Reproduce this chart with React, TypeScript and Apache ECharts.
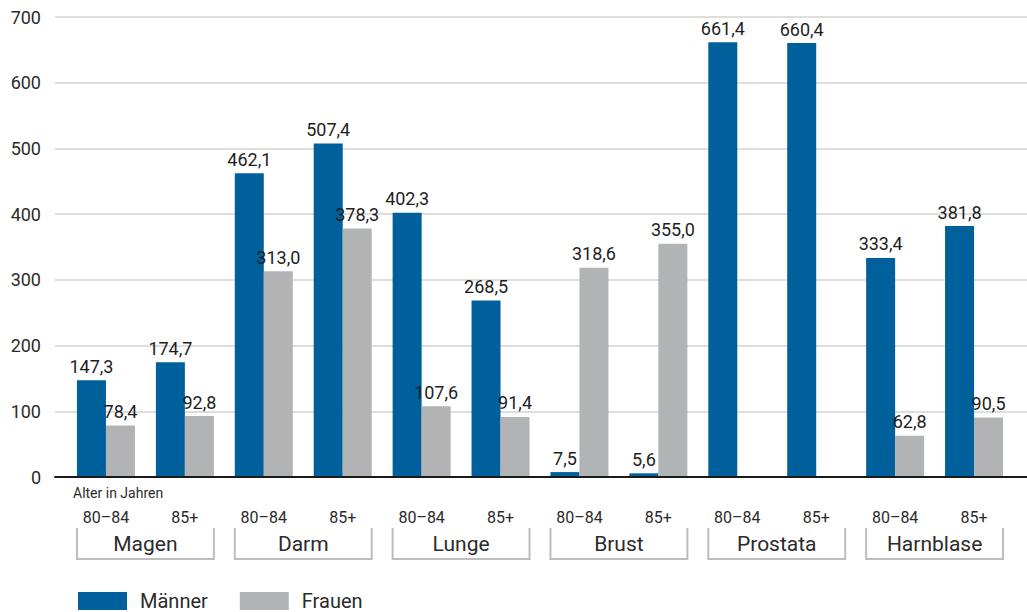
import { useEffect, useRef } from "react";
import * as echarts from "echarts";

const ageLabels = ["80–84", "85+", "80–84", "85+", "80–84", "85+", "80–84", "85+", "80–84", "85+", "80–84", "85+"];
const groups = ["Magen", "Darm", "Lunge", "Brust", "Prostata", "Harnblase"];
const maenner = [147.3, 174.7, 462.1, 507.4, 402.3, 268.5, 7.5, 5.6, 661.4, 660.4, 333.4, 381.8];
const frauen: (number | null)[] = [78.4, 92.8, 313.0, 378.3, 107.6, 91.4, 318.6, 355.0, null, null, 62.8, 90.5];
const yMin = 0;
const yMax = 700;
const yStep = 100;
const axisTitle = "Alter in Jahren";

const BLUE = "#00609c";
const GRAY = "#b2b3b5";
const TEXT = "#2b2b2b";
const FONT = "Roboto";
const BAR_W = 29;

const fmt = (v: number) => v.toFixed(1).replace(".", ",");

export default function App() {
  const ref = useRef<HTMLDivElement>(null);
  useEffect(() => {
    if (!ref.current) return;
    const chart = echarts.init(ref.current, null, { renderer: "svg" });
    const labelCfg = {
      show: true,
      position: "top" as const,
      distance: 5,
      fontSize: 18,
      color: "#1e1e1e",
      fontFamily: FONT,
      formatter: (p: any) => fmt(p.value),
    };
    chart.setOption({
      animation: false,
      textStyle: { fontFamily: FONT, color: TEXT },
      grid: [
        { left: 55, right: 0, top: 17, height: 460 },
        { left: 66.5, width: 947, top: 17, height: 460 },
      ],
      xAxis: [
        {
          type: "value",
          gridIndex: 0,
          min: 0,
          max: 1,
          axisLine: { show: true, lineStyle: { color: "#1a1a1a", width: 2 } },
          axisTick: { show: false },
          axisLabel: { show: false },
          splitLine: { show: false },
          z: 10,
        },
        {
          type: "category",
          gridIndex: 1,
          data: ageLabels,
          axisLine: { show: false },
          axisTick: { show: false },
          axisLabel: { fontSize: 16, color: TEXT, margin: 32, fontFamily: FONT },
        },
        {
          type: "category",
          gridIndex: 1,
          position: "bottom",
          data: groups,
          axisLine: { show: false },
          axisTick: { show: false },
          axisLabel: { fontSize: 21, color: TEXT, margin: 56, fontFamily: FONT },
        },
      ],
      yAxis: [
        {
          type: "value",
          gridIndex: 0,
          min: yMin,
          max: yMax,
          interval: yStep,
          axisLine: { show: false },
          axisTick: { show: false },
          axisLabel: { fontSize: 18, color: TEXT, margin: 14, fontFamily: FONT },
          splitLine: { show: true, lineStyle: { color: "#d3d3d3", width: 1.5 } },
        },
        {
          type: "value",
          gridIndex: 1,
          min: yMin,
          max: yMax,
          interval: yStep,
          show: false,
          splitLine: { show: false },
        },
      ],
      legend: {
        data: ["Männer", "Frauen"],
        left: 78,
        top: 591,
        padding: 0,
        icon: "rect",
        itemWidth: 49,
        itemHeight: 18,
        itemGap: 32,
        textStyle: { fontSize: 20, color: TEXT, fontFamily: FONT, padding: [0, 0, 0, 8] },
      },
      series: [
        {
          name: "Männer",
          type: "bar",
          xAxisIndex: 1,
          yAxisIndex: 1,
          data: maenner,
          barWidth: BAR_W,
          barGap: "0%",
          itemStyle: { color: BLUE },
          label: labelCfg,
        },
        {
          name: "Frauen",
          type: "bar",
          xAxisIndex: 1,
          yAxisIndex: 1,
          data: frauen,
          barWidth: BAR_W,
          barGap: "0%",
          itemStyle: { color: GRAY },
          label: labelCfg,
        },
      ],
    });

    const elements: any[] = [
      {
        type: "text",
        left: 73,
        top: 486,
        style: { text: axisTitle, fontSize: 14, fill: TEXT, fontFamily: FONT },
      },
    ];
    groups.forEach((_, g) => {
      const c0 = chart.convertToPixel({ xAxisIndex: 1 }, 2 * g) as number;
      const c1 = chart.convertToPixel({ xAxisIndex: 1 }, 2 * g + 1) as number;
      const l = c0 - BAR_W;
      const r = c1 + BAR_W;
      elements.push({
        type: "polyline",
        shape: { points: [[l, 528], [l, 559], [r, 559], [r, 528]] },
        style: { stroke: "#bdbdbd", lineWidth: 2, fill: null },
        silent: true,
      });
    });
    chart.setOption({ graphic: elements });

    return () => chart.dispose();
  }, []);
  return <div ref={ref} style={{ position: "absolute", left: 0, top: 0, width: 1027, height: 612 }} />;
}
